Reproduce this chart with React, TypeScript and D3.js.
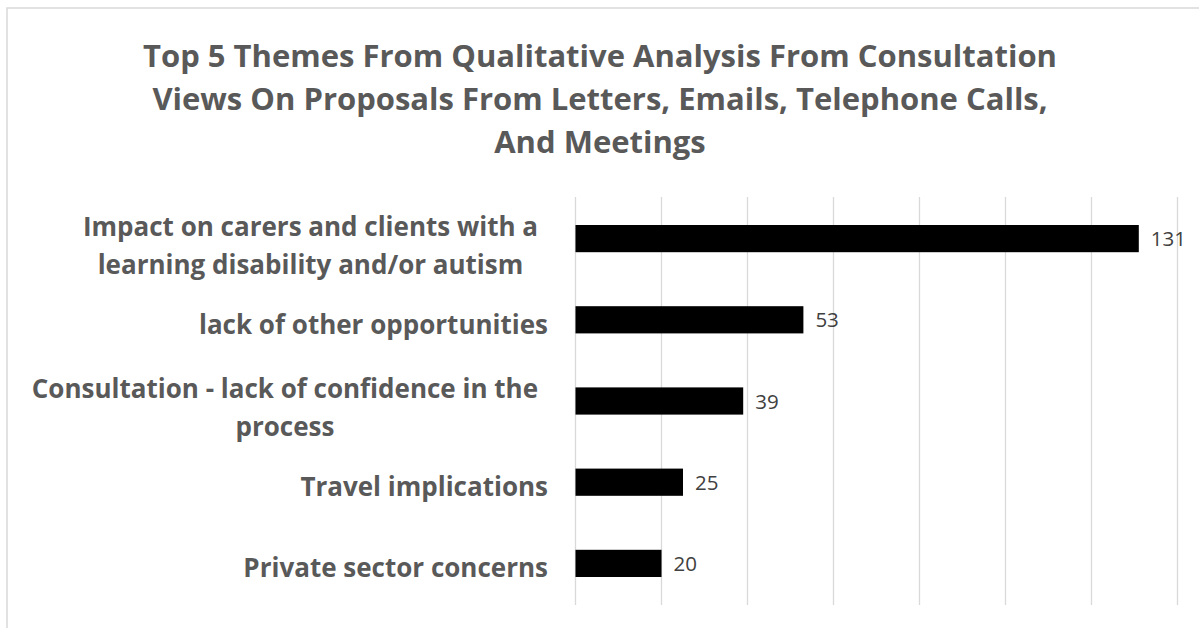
import React from "react";
import * as d3 from "d3";

const titleLines = [
  "Top 5 Themes From Qualitative Analysis From Consultation",
  "Views On Proposals From Letters, Emails, Telephone Calls,",
  "And Meetings",
];

const categories = [
  "Impact on carers and clients with a learning disability and/or autism",
  "lack of other opportunities",
  "Consultation - lack of confidence in the process",
  "Travel implications",
  "Private sector concerns",
];

const categoryLines = [
  ["Impact on carers and clients with a", "learning disability and/or autism"],
  ["lack of other opportunities"],
  ["Consultation - lack of confidence in the", "process"],
  ["Travel implications"],
  ["Private sector concerns"],
];

const values = [131, 53, 39, 25, 20];

const xTicks = [0, 20, 40, 60, 80, 100, 120, 140];

const W = 1199;
const H = 628;

const labelFont = "'Open Sans', Lato, sans-serif";
const labelColor = "#595959";
const labelSize = 26;

function measure(text: string): number {
  const c = document.createElement("canvas").getContext("2d");
  if (!c) return text.length * labelSize * 0.55;
  c.font = `700 ${labelSize}px 'Open Sans', Lato, sans-serif`;
  return c.measureText(text).width;
}

export default function App() {
  const x = d3.scaleLinear().domain([0, 140]).range([575.5, 1177.5]);
  const y = d3
    .scaleBand<string>()
    .domain(categories)
    .range([198, 604])
    .paddingInner(0.665)
    .paddingOuter(0.3325);

  // Excel-style wrapped labels: lines centred in a block right-aligned to the axis
  const lineLayout = (i: number, j: number, lines: string[]) => {
    const c = (y(categories[i]) as number) + y.bandwidth() / 2;
    if (lines.length === 1) return { x: 548, y: c + 14, anchor: "end" };
    const maxW = Math.max(...lines.map(measure));
    return { x: 538 - maxW / 2, y: j === 0 ? c - 3 : c + 35, anchor: "middle" };
  };

  return (
    <svg
      width={W}
      height={H}
      style={{ position: "absolute", left: 0, top: 0, background: "#fff" }}
    >
      <rect x={7} y={8} width={W + 20} height={H + 20} fill="#fff" stroke="#d9d9d9" strokeWidth={1.5} />
      {titleLines.map((t, i) => (
        <text
          key={i}
          x={600}
          y={67 + i * 43}
          textAnchor="middle"
          fontFamily={labelFont}
          fontWeight={700}
          fontSize={31}
          fill={labelColor}
        >
          {t}
        </text>
      ))}
      {xTicks.map((t) => (
        <line
          key={t}
          x1={x(t)}
          x2={x(t)}
          y1={197}
          y2={605}
          stroke="#d9d9d9"
          strokeWidth={1.3}
        />
      ))}
      {categories.map((c, i) => (
        <rect
          key={c}
          x={x(0)}
          y={y(c)}
          width={x(values[i]) - x(0)}
          height={y.bandwidth()}
          fill="#000"
        />
      ))}
      {categories.map((c, i) => (
        <text
          key={c}
          x={x(values[i]) + 12}
          y={(y(c) as number) + y.bandwidth() / 2 + 7.5}
          fontFamily={labelFont}
          fontSize={20.5}
          fill="#404040"
        >
          {values[i]}
        </text>
      ))}
      {categoryLines.map((lines, i) =>
        lines.map((ln, j) => {
          const p = lineLayout(i, j, lines);
          return (
            <text
              key={i + "-" + j}
              x={p.x}
              y={p.y}
              textAnchor={p.anchor as any}
              fontFamily={labelFont}
              fontWeight={700}
              fontSize={labelSize}
              fill={labelColor}
            >
              {ln}
            </text>
          );
        })
      )}
    </svg>
  );
}
